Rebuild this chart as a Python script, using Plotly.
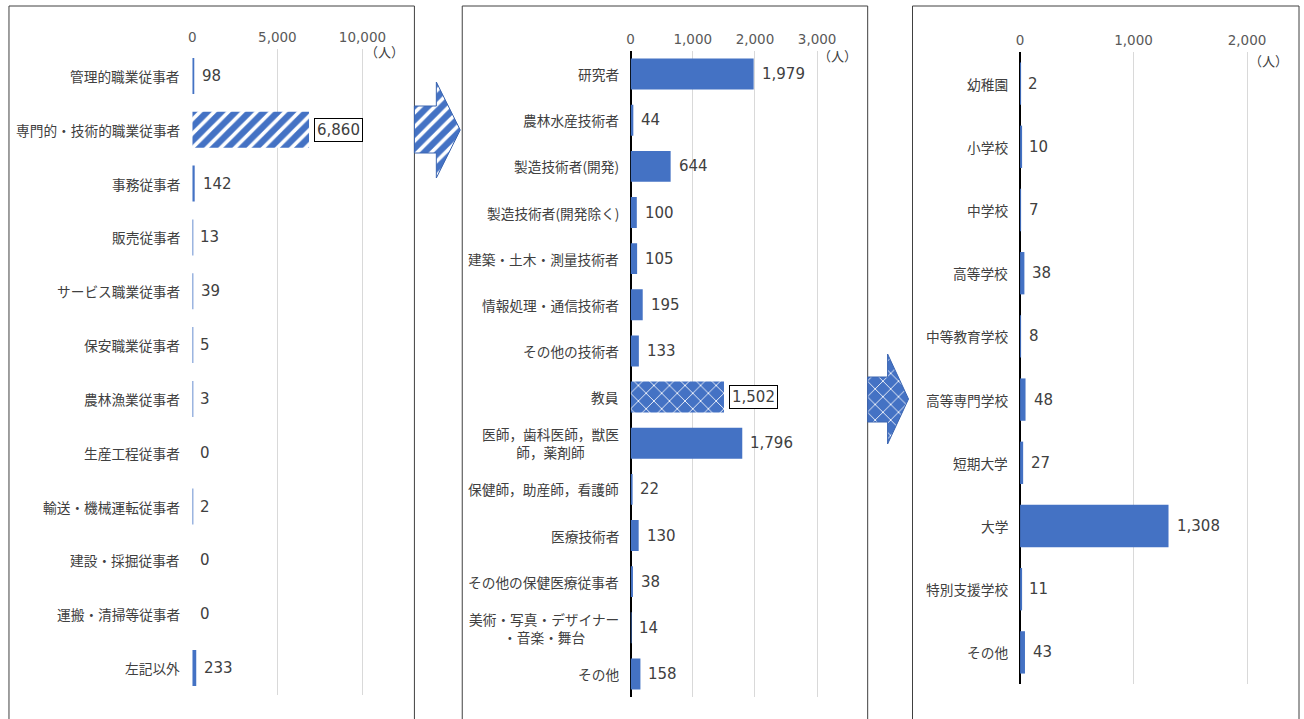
import plotly.graph_objects as go

W, H = 1304, 719

# ---------------- data ----------------
occ_cats = ["管理的職業従事者", "専門的・技術的職業従事者", "事務従事者", "販売従事者",
            "サービス職業従事者", "保安職業従事者", "農林漁業従事者", "生産工程従事者",
            "輸送・機械運転従事者", "建設・採掘従事者", "運搬・清掃等従事者", "左記以外"]
occ_vals = [98, 6860, 142, 13, 39, 5, 3, 0, 2, 0, 0, 233]
occ_ticks = [0, 5000, 10000]

prof_cats = ["研究者", "農林水産技術者", "製造技術者(開発)", "製造技術者(開発除く)",
             "建築・土木・測量技術者", "情報処理・通信技術者", "その他の技術者", "教員",
             "医師，歯科医師，獣医<br>師，薬剤師", "保健師，助産師，看護師", "医療技術者",
             "その他の保健医療従事者", "美術・写真・デザイナー<br>・音楽・舞台", "その他"]
prof_vals = [1979, 44, 644, 100, 105, 195, 133, 1502, 1796, 22, 130, 38, 14, 158]
prof_ticks = [0, 1000, 2000, 3000]

school_cats = ["幼稚園", "小学校", "中学校", "高等学校", "中等教育学校", "高等専門学校",
               "短期大学", "大学", "特別支援学校", "その他"]
school_vals = [2, 10, 7, 38, 8, 48, 27, 1308, 11, 43]
school_ticks = [0, 1000, 2000]

unit_label = "（人）"

# ---------------- style ----------------
BLUE = "#4472C4"
GRID = "#D9D9D9"
TXT = "#404040"
TICK = "#595959"
CJK = "Noto Sans CJK JP"
NUM = "DejaVu Sans"

# panel geometry (pixels)
panels = [
    dict(cats=occ_cats, vals=occ_vals, ticks=occ_ticks, xmax=12000, x0=189, x1=394,
         ytop=49, ybot=695, hi=1, pat="/", psize=10, psol=0.36, zero=False,
         unit=(382, 52), box=(5, 412)),
    dict(cats=prof_cats, vals=prof_vals, ticks=prof_ticks, xmax=3300, x0=629, x1=835,
         ytop=51, ybot=697, hi=7, pat="x", psize=11, psol=0.15, zero=True,
         unit=(837, 56), box=(460, 867)),
    dict(cats=school_cats, vals=school_vals, ticks=school_ticks, xmax=2300, x0=1020, x1=1282,
         ytop=52, ybot=684, hi=None, pat="", psize=10, psol=0.3, zero=True,
         unit=(1269, 60), box=(912, 1300)),
]

fig = go.Figure()
annotations = []
shapes = []
layout = {}

for i, p in enumerate(panels):
    n = i + 1
    xa = "x" if n == 1 else f"x{n}"
    ya = "y" if n == 1 else f"y{n}"
    shapes_pat = [p["pat"] if j == p["hi"] else "" for j in range(len(p["cats"]))]
    fig.add_trace(go.Bar(
        x=p["vals"], y=p["cats"], orientation="h", xaxis=xa, yaxis=ya,
        width=0.67,
        marker=dict(color=BLUE, line=dict(width=0),
                    pattern=dict(shape=shapes_pat, fgcolor="white", bgcolor=BLUE,
                                 size=p["psize"], solidity=p["psol"], fillmode="replace")),
        hoverinfo="skip", showlegend=False,
    ))
    xkey = "xaxis" if n == 1 else f"xaxis{n}"
    ykey = "yaxis" if n == 1 else f"yaxis{n}"
    layout[xkey] = dict(
        domain=[p["x0"] / W, p["x1"] / W], range=[0, p["xmax"]], anchor=ya,
        side="top", tickvals=p["ticks"], ticktext=[f"{t:,}" for t in p["ticks"]],
        tickfont=dict(family=NUM, size=13.5, color=TICK), ticks="",
        ticklabelstandoff=3,
        showgrid=True, gridcolor=GRID, gridwidth=1,
        zeroline=p["zero"], zerolinecolor="black", zerolinewidth=2,
        showline=False, fixedrange=True,
    )
    layout[ykey] = dict(
        domain=[1 - p["ybot"] / H, 1 - p["ytop"] / H], anchor=xa,
        type="category", categoryorder="array", categoryarray=p["cats"],
        range=[len(p["cats"]) - 0.5, -0.5],
        showticklabels=False, showgrid=False, zeroline=False, ticks="",
        showline=False, fixedrange=True,
    )
    # category labels
    for c in p["cats"]:
        annotations.append(dict(
            x=(p["x0"] - 10) / W, xref="paper", y=c, yref=ya,
            text=c, showarrow=False, xanchor="right", yanchor="middle", align="center",
            font=dict(family=CJK, size=13.7, color=TXT),
        ))
    # value labels
    for j, (c, v) in enumerate(zip(p["cats"], p["vals"])):
        boxed = j == p["hi"]
        annotations.append(dict(
            x=v, xref=xa, y=c, yref=ya, text=f"{v:,}", showarrow=False,
            xanchor="left", yanchor="middle", xshift=5 if boxed else 7,
            font=dict(family=NUM, size=15, color=TXT),
            bordercolor="black" if boxed else None, borderwidth=1 if boxed else 0,
            borderpad=2 if boxed else 1, bgcolor="white" if boxed else None,
        ))
    # unit label
    annotations.append(dict(
        x=p["unit"][0] / W, y=1 - p["unit"][1] / H, xref="paper", yref="paper",
        text=unit_label, showarrow=False, xanchor="center", yanchor="middle",
        font=dict(family=CJK, size=13, color=TXT),
    ))
    # panel border
    shapes.append(dict(
        type="rect", xref="paper", yref="paper",
        x0=p["box"][0] / W, x1=p["box"][1] / W, y0=1 - 6 / H, y1=-0.05,
        line=dict(color="#404040", width=1), fillcolor="rgba(0,0,0,0)", layer="below",
    ))

# ---------------- block arrows (decoration, pixel geometry) ----------------
arrows = [
    dict(x0=412, xh=434, xt=458, ys0=106, ys1=153, yh0=82, yh1=178, pat="/", size=10, sol=0.36),
    dict(x0=867, xh=887, xt=908, ys0=377, ys1=422, yh0=354, yh1=444, pat="x", size=11, sol=0.15),
]
for a in arrows:
    yc = (a["yh0"] + a["yh1"]) / 2
    xs = [a["x0"], a["xh"], a["xh"], a["xt"], a["xh"], a["xh"], a["x0"], a["x0"]]
    ys = [a["ys0"], a["ys0"], a["yh0"], yc, a["yh1"], a["ys1"], a["ys1"], a["ys0"]]
    fig.add_trace(go.Scatter(
        x=xs, y=ys, xaxis="x4", yaxis="y4", mode="lines", fill="toself",
        fillcolor=BLUE, line=dict(color="#3A64B0", width=1),
        fillpattern=dict(shape=a["pat"], fgcolor="white", bgcolor=BLUE,
                         size=a["size"], solidity=a["sol"], fillmode="replace"),
        hoverinfo="skip", showlegend=False,
    ))
layout["xaxis4"] = dict(domain=[0, 1], range=[0, W], anchor="y4", visible=False, fixedrange=True)
layout["yaxis4"] = dict(domain=[0, 1], range=[H, 0], anchor="x4", visible=False, fixedrange=True)

fig.update_layout(
    width=W, height=H, margin=dict(l=0, r=0, t=0, b=0),
    plot_bgcolor="rgba(0,0,0,0)", paper_bgcolor="white",
    showlegend=False, annotations=annotations, shapes=shapes,
    **layout,
)

fig.write_html(
    "out.html",
    config={"displayModeBar": False},
    post_script="document.body.style.margin='0';document.body.style.padding='0';"
                "document.body.style.overflow='hidden';",
)
